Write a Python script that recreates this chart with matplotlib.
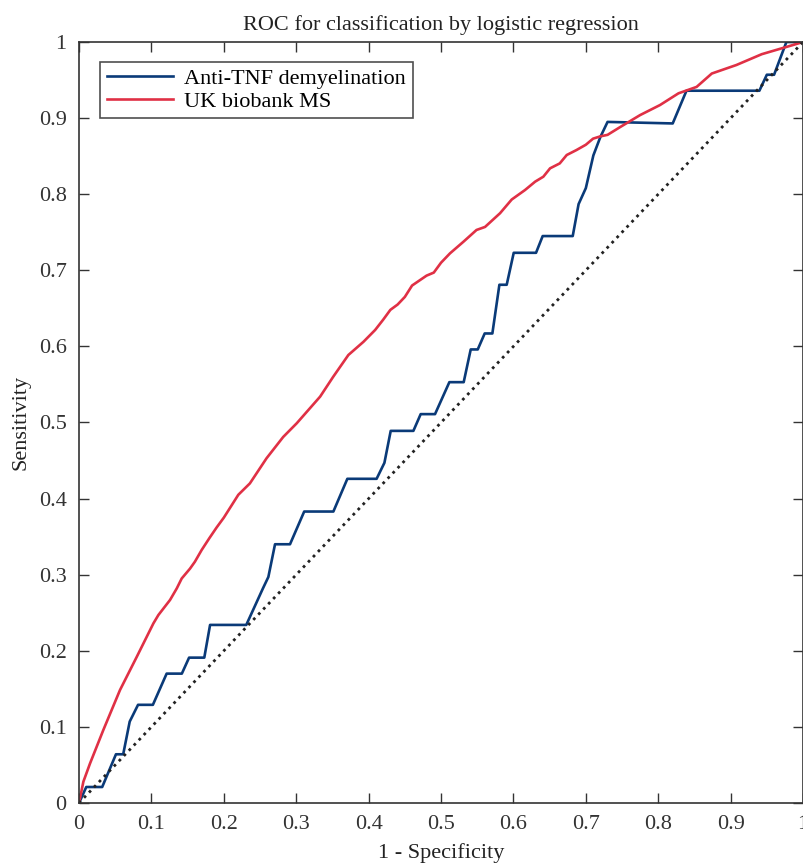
import matplotlib
matplotlib.use("Agg")
import matplotlib.pyplot as plt

# ROC curve points
tnf_fpr = [0.0, 0.010, 0.032, 0.051, 0.061, 0.070, 0.0815, 0.102, 0.121, 0.142, 0.152, 0.173,
           0.181, 0.231, 0.254, 0.2615, 0.2707, 0.2914, 0.311, 0.3513, 0.3706, 0.411, 0.4218,
           0.4305, 0.4618, 0.4719, 0.4917, 0.5115, 0.5313, 0.541, 0.5507, 0.5603, 0.5709,
           0.5806, 0.5907, 0.6004, 0.6312, 0.6404, 0.6819, 0.690, 0.700, 0.7104, 0.720, 0.730,
           0.820, 0.839, 0.9397, 0.950, 0.960, 0.977, 1.0]
tnf_tpr = [0.0, 0.021, 0.021, 0.064, 0.064, 0.107, 0.129, 0.129, 0.170, 0.170, 0.191, 0.191,
           0.234, 0.234, 0.282, 0.297, 0.340, 0.340, 0.383, 0.383, 0.426, 0.426, 0.447,
           0.489, 0.489, 0.511, 0.511, 0.553, 0.553, 0.596, 0.596, 0.617, 0.617,
           0.681, 0.681, 0.723, 0.723, 0.745, 0.745, 0.787, 0.808, 0.851, 0.875, 0.895,
           0.893, 0.936, 0.936, 0.957, 0.957, 1.0, 1.0]

ukb_fpr = [0.0, 0.006, 0.0152, 0.0336, 0.0566, 0.0797, 0.1027, 0.1096, 0.1257, 0.135, 0.1418,
           0.1533, 0.160, 0.1694, 0.18, 0.19, 0.20, 0.21, 0.22, 0.236, 0.259, 0.282, 0.3007,
           0.333, 0.351, 0.372, 0.3928, 0.409, 0.42, 0.43, 0.44, 0.45, 0.46, 0.48, 0.49, 0.50,
           0.5124, 0.531, 0.549, 0.5608, 0.5815, 0.5976, 0.616, 0.630, 0.6413, 0.6506, 0.664,
           0.6736, 0.687, 0.70, 0.71, 0.72, 0.73, 0.747, 0.775, 0.8025, 0.828, 0.853, 0.874,
           0.908, 0.943, 0.977, 1.0]
ukb_tpr = [0.0, 0.028, 0.052, 0.096, 0.1485, 0.192, 0.236, 0.247, 0.2668, 0.282, 0.295,
           0.308, 0.317, 0.3325, 0.348, 0.362, 0.375, 0.390, 0.405, 0.420, 0.453, 0.481, 0.499,
           0.534, 0.560, 0.5887, 0.606, 0.6216, 0.635, 0.648, 0.655, 0.665, 0.680, 0.693, 0.697,
           0.710, 0.7223, 0.7376, 0.753, 0.757, 0.775, 0.793, 0.8055, 0.8165, 0.823, 0.834,
           0.8405, 0.8515, 0.858, 0.865, 0.873, 0.876, 0.878, 0.888, 0.904, 0.9172, 0.9326,
           0.941, 0.9586, 0.9698, 0.984, 0.9935, 1.0]

ticks = [0, 0.1, 0.2, 0.3, 0.4, 0.5, 0.6, 0.7, 0.8, 0.9, 1]
tick_labels = ["0", "0.1", "0.2", "0.3", "0.4", "0.5", "0.6", "0.7", "0.8", "0.9", "1"]

plt.rcParams['font.family'] = ['Liberation Serif', 'DejaVu Serif']

fig = plt.figure(figsize=(8.04, 8.68), dpi=100)
ax = fig.add_axes([0.0983, 0.0749, 0.9005, 0.8767])

ax.plot(tnf_fpr, tnf_tpr, color='#0a3a78', lw=1.9, label='Anti-TNF demyelination')
ax.plot(ukb_fpr, ukb_tpr, color='#e03045', lw=1.9, label='UK biobank MS')
ax.plot([0, 1], [0, 1], color='#222222', lw=2.0, linestyle=(0, (1, 1.6)))

ax.set_xlim(0, 1)
ax.set_ylim(0, 1)
ax.set_xticks(ticks)
ax.set_xticklabels(tick_labels)
ax.set_yticks(ticks)
ax.set_yticklabels(tick_labels)
ax.tick_params(direction='in', length=7, width=1, top=True, right=True,
               labelsize=16, colors='#333333', pad=9)
for s in ax.spines.values():
    s.set_color('#333333')
    s.set_linewidth(1.2)

ax.set_title("ROC for classification by logistic regression", fontsize=16, color='#222222', pad=9)
ax.set_xlabel("1 - Specificity", fontsize=16, color='#222222', labelpad=6)
ax.set_ylabel("Sensitivity", fontsize=16, color='#222222', labelpad=6)

leg = ax.legend(loc='upper left', bbox_to_anchor=(0.029, 0.974), borderaxespad=0,
                fontsize=16, frameon=True, fancybox=False, handlelength=3.0,
                borderpad=0.3, labelspacing=0.1, handletextpad=0.5)
leg.get_frame().set_edgecolor('#222222')
leg.get_frame().set_linewidth(1.2)

fig.savefig("out.png", dpi=100)
